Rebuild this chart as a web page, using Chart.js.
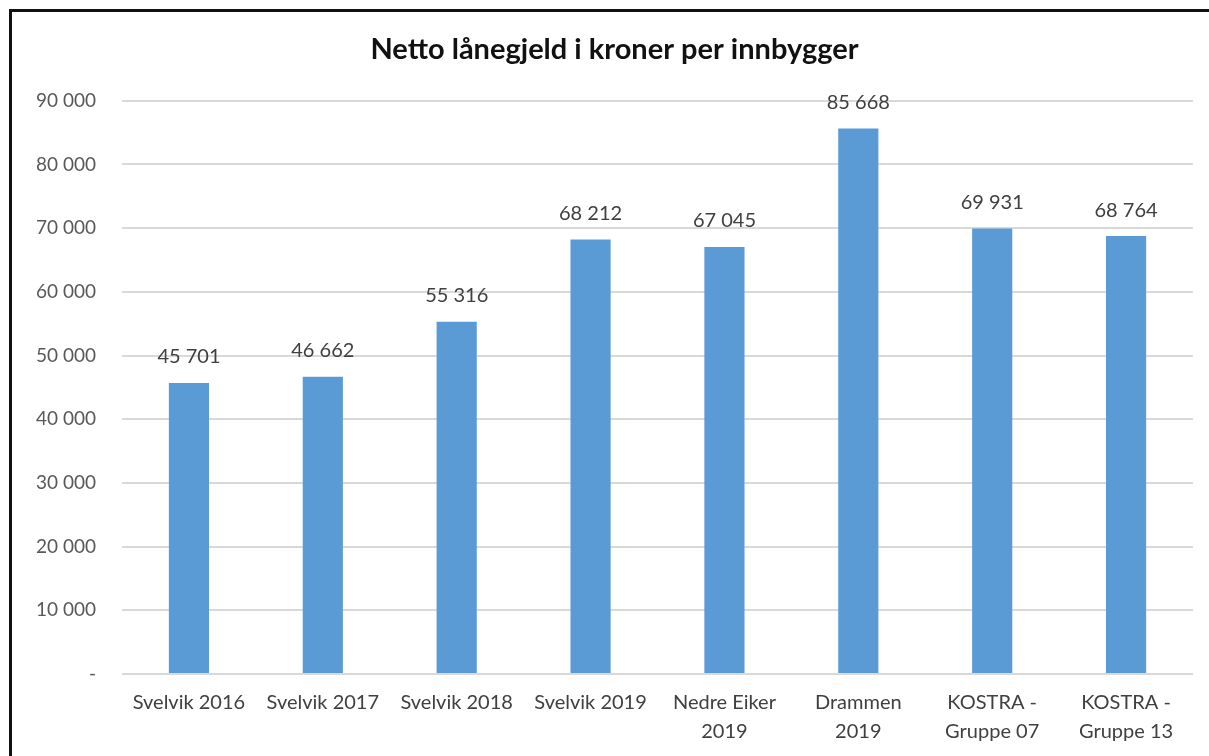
<!DOCTYPE html>
<html><head><meta charset="utf-8">
<script src="https://cdn.jsdelivr.net/npm/chart.js@4/dist/chart.umd.min.js"></script>
<style>
html,body{margin:0;padding:0;background:#fff;}
#wrap{position:relative;width:1209px;height:756px;}
#frame{position:absolute;left:9px;top:9px;right:0;bottom:0;border-top:3px solid #111;border-left:3px solid #111;pointer-events:none;}
canvas{position:absolute;left:0;top:0;}
</style></head>
<body>
<div id="wrap"><canvas id="c" width="1209" height="756"></canvas><div id="frame"></div></div>
<script>
const categories = [["Svelvik 2016"],["Svelvik 2017"],["Svelvik 2018"],["Svelvik 2019"],["Nedre Eiker","2019"],["Drammen","2019"],["KOSTRA -","Gruppe 07"],["KOSTRA -","Gruppe 13"]];
const values = [45701, 46662, 55316, 68212, 67045, 85668, 69931, 68764];
const titleText = "Netto lånegjeld i kroner per innbygger";
const yMin = 0, yMax = 90000, yStep = 10000;

const fmt = v => v === 0 ? "-" : String(v).replace(/\B(?=(\d{3})+(?!\d))/g, " ");
const FONT = "Lato, 'Open Sans', sans-serif";

const labelPlugin = {
  id: 'barLabels',
  afterDatasetsDraw(chart) {
    const ctx = chart.ctx;
    const meta = chart.getDatasetMeta(0);
    ctx.save();
    ctx.font = "20px " + FONT;
    ctx.fillStyle = "#404040";
    ctx.textAlign = "center";
    ctx.textBaseline = "middle";
    meta.data.forEach((bar, i) => {
      ctx.fillText(fmt(values[i]), bar.x, bar.y - 26);
    });
    ctx.restore();
  }
};

new Chart(document.getElementById('c'), {
  type: 'bar',
  data: {
    labels: categories,
    datasets: [{ data: values, backgroundColor: '#5B9BD5', barPercentage: 0.3, categoryPercentage: 1.0 }]
  },
  options: {
    responsive: false,
    animation: false,
    layout: { padding: { left: 36, right: 16, top: 0, bottom: 0 } },
    plugins: {
      legend: { display: false },
      tooltip: { enabled: false },
      title: {
        display: true, text: titleText, color: '#111',
        font: { family: FONT, size: 29, weight: 'bold', lineHeight: 1.2 },
        padding: { top: 32, bottom: 34 }
      }
    },
    scales: {
      x: {
        grid: { display: false, drawTicks: false },
        border: { display: false },
        ticks: { color: '#404040', font: { family: FONT, size: 20, lineHeight: 1.45 }, padding: 14, maxRotation: 0, autoSkip: false },
        afterFit: s => { s.height = 82; }
      },
      y: {
        min: yMin, max: yMax,
        grid: { color: '#D9D9D9', lineWidth: 2, drawTicks: false },
        border: { display: false },
        ticks: { stepSize: yStep, color: '#595959', font: { family: FONT, size: 19 }, padding: 26, callback: v => fmt(v) },
        afterFit: s => { s.width = 86; }
      }
    }
  },
  plugins: [labelPlugin]
});
</script>
</body></html>
